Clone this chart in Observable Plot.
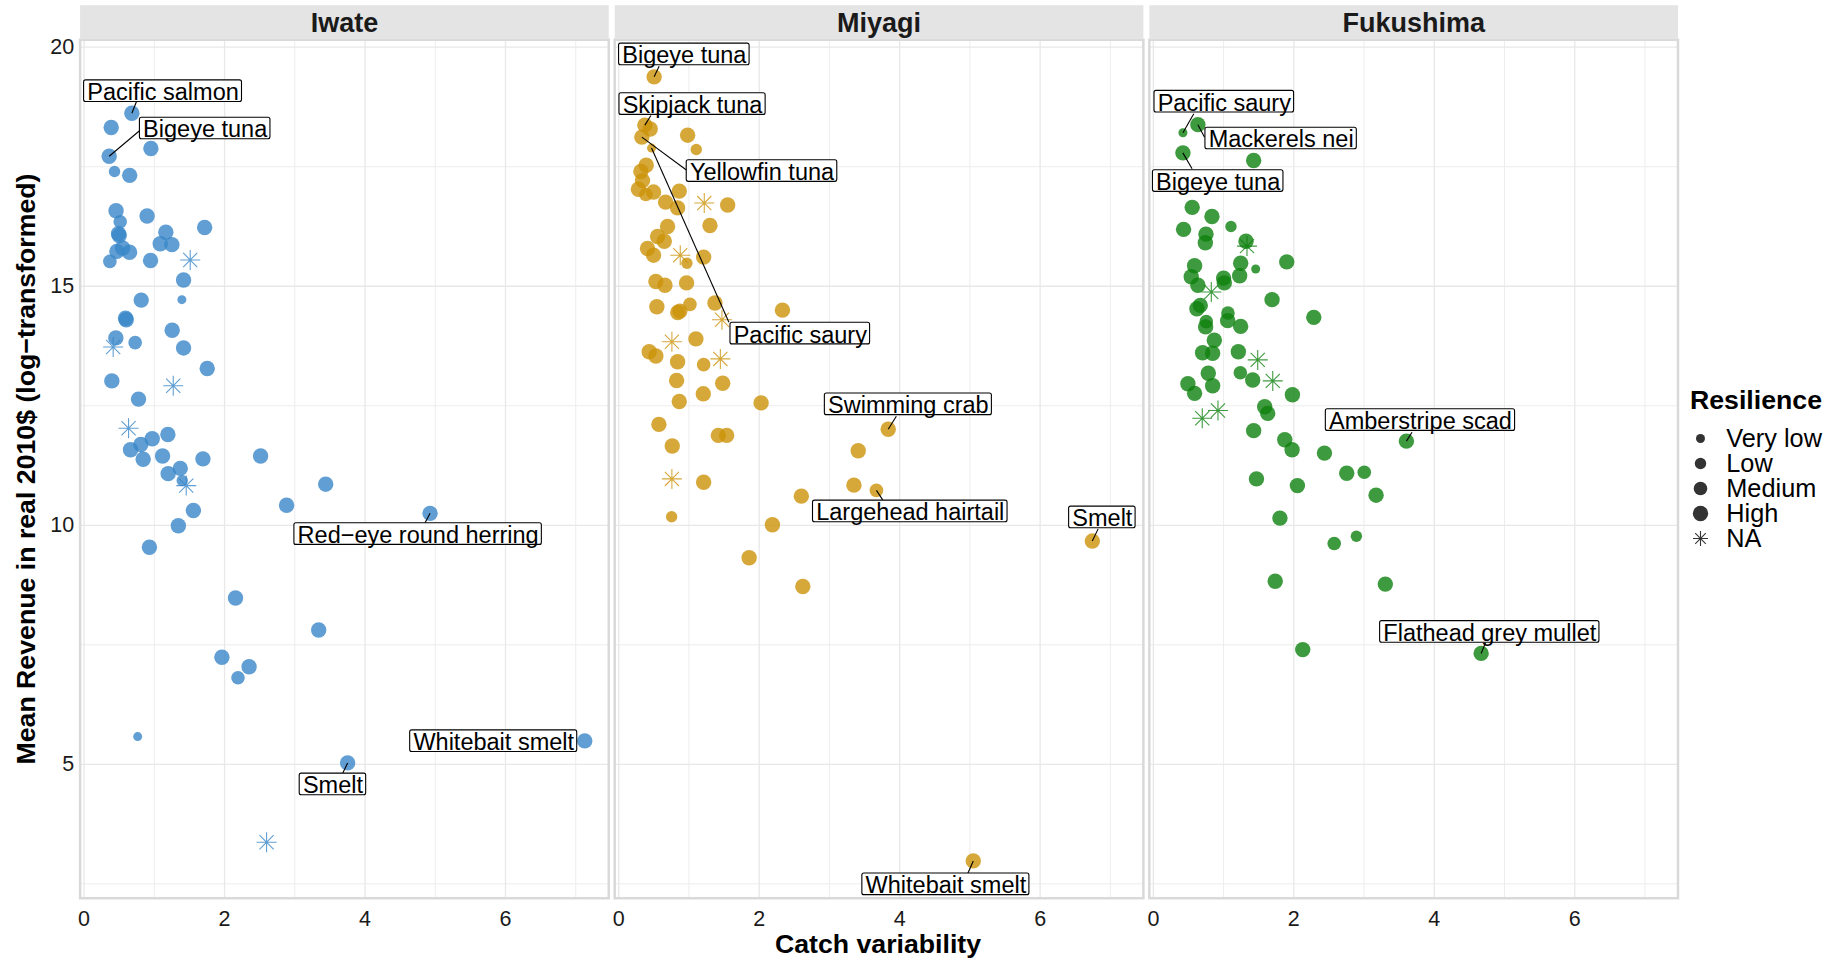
<!DOCTYPE html>
<html>
<head>
<meta charset="utf-8">
<script src="https://cdn.jsdelivr.net/npm/d3@7"></script>
<script src="https://cdn.jsdelivr.net/npm/@observablehq/plot@0.6"></script>
<style>
  body { margin: 0; background: #fff; }
  #chart { position: relative; width: 1837px; height: 960px; overflow: hidden; font-family: "Liberation Sans", Arial, sans-serif; color: #000; }
  #chart svg { position: absolute; }
  .axis-title { position: absolute; font-weight: bold; font-size: 26.7px; line-height: 30px; text-align: center; white-space: nowrap; color: #000; }
  .legend-title { position: absolute; font-weight: bold; font-size: 26.7px; line-height: 30px; white-space: nowrap; color: #000; }
</style>
</head>
<body>
<div id="chart"></div>
<script>
// Prefectures (facets) and their point colours
const regions = ["Iwate", "Miyagi", "Fukushima"];
const regionColors = ["#3886C8", "#CC9209", "#0E810E"];

// Resilience classes: code used in the series, legend text, dot radius
const resilienceCodes = ["V", "L", "M", "H", "NA"];
const resilienceLevels = ["Very low", "Low", "Medium", "High", "NA"];
const resilienceRadius = [4.5, 5.7, 6.8, 7.7, 10];

// Species per prefecture: [catch variability, mean revenue (log), resilience]
const iwate = [
  [0.68,18.62,"H"],[0.386,18.32,"H"],[0.951,17.88,"H"],[0.357,17.72,"H"],[0.433,17.40,"L"],
  [0.649,17.32,"H"],[0.455,16.58,"H"],[0.897,16.47,"H"],[0.514,16.35,"M"],[0.49,16.10,"H"],
  [0.50,16.06,"H"],[1.716,16.23,"H"],[1.164,16.13,"H"],[1.084,15.89,"H"],[1.250,15.87,"H"],
  [0.467,15.73,"H"],[0.548,15.80,"H"],[0.647,15.71,"H"],[0.367,15.52,"M"],[0.946,15.54,"H"],
  [1.511,15.55,"NA"],[1.416,15.13,"H"],[1.392,14.72,"V"],[0.813,14.71,"H"],[0.59,14.33,"H"],
  [0.60,14.30,"H"],[1.254,14.08,"H"],[0.452,13.92,"H"],[0.727,13.82,"M"],[0.414,13.73,"NA"],
  [1.416,13.71,"H"],[1.753,13.28,"H"],[0.395,13.02,"H"],[1.269,12.92,"NA"],[0.775,12.64,"H"],
  [0.633,12.03,"NA"],[1.193,11.90,"H"],[0.970,11.81,"H"],[0.808,11.69,"H"],[0.661,11.58,"H"],
  [2.513,11.45,"H"],[1.117,11.45,"H"],[1.692,11.39,"H"],[0.841,11.38,"H"],[1.369,11.19,"H"],
  [1.197,11.08,"H"],[1.397,10.935,"L"],[1.454,10.83,"NA"],[3.44,10.86,"H"],[2.883,10.42,"H"],
  [1.556,10.31,"H"],[4.926,10.25,"H"],[1.342,9.99,"H"],[0.930,9.54,"H"],[2.156,8.48,"H"],
  [3.34,7.81,"H"],[1.962,7.24,"H"],[2.349,7.04,"H"],[2.191,6.81,"M"],[0.763,5.58,"V"],
  [7.128,5.49,"H"],[3.752,5.03,"H"],[2.598,3.37,"NA"]
];
const miyagi = [
  [0.504,19.38,"H"],[0.372,18.37,"H"],[0.448,18.29,"H"],[0.981,18.16,"H"],[0.329,18.12,"H"],
  [1.104,17.86,"L"],[0.467,17.89,"V"],[0.391,17.53,"H"],[0.315,17.40,"H"],[0.339,17.21,"H"],
  [0.28,17.03,"H"],[0.386,16.92,"M"],[0.496,16.97,"H"],[0.862,16.99,"H"],[1.218,16.74,"NA"],
  [1.551,16.70,"H"],[0.667,16.76,"H"],[0.838,16.64,"H"],[1.299,16.27,"H"],[0.695,16.25,"H"],
  [0.553,16.04,"H"],[0.648,15.94,"H"],[0.410,15.79,"H"],[0.496,15.65,"H"],[0.876,15.65,"NA"],
  [0.971,15.48,"L"],[1.209,15.61,"H"],[0.529,15.10,"H"],[0.658,15.02,"H"],[0.966,15.07,"H"],
  [0.543,14.57,"H"],[0.871,14.48,"H"],[0.84,14.45,"H"],[1.014,14.62,"M"],[1.37,14.65,"H"],
  [2.331,14.50,"H"],[1.470,14.30,"NA"],[0.757,13.84,"NA"],[1.099,13.90,"H"],[0.434,13.63,"H"],
  [0.529,13.54,"H"],[0.838,13.42,"H"],[1.209,13.36,"M"],[1.447,13.48,"NA"],[0.824,13.03,"H"],
  [1.480,12.97,"H"],[1.204,12.75,"H"],[0.862,12.59,"H"],[2.027,12.56,"H"],[0.572,12.11,"H"],
  [1.418,11.88,"H"],[1.537,11.88,"H"],[3.837,12.01,"H"],[0.762,11.66,"H"],[3.41,11.56,"H"],
  [0.757,10.97,"NA"],[1.209,10.90,"H"],[3.349,10.84,"H"],[3.669,10.73,"M"],[2.60,10.61,"H"],
  [0.753,10.18,"L"],[2.188,10.01,"H"],[6.743,9.67,"H"],[1.857,9.32,"H"],[2.621,8.72,"H"],
  [5.048,2.98,"H"]
];
const fukushima = [
  [0.421,18.21,"V"],[0.634,18.38,"H"],[0.421,17.79,"H"],[1.428,17.63,"H"],[0.553,16.65,"H"],
  [0.834,16.46,"H"],[1.105,16.25,"L"],[0.430,16.19,"H"],[0.749,16.09,"H"],[0.740,15.91,"H"],
  [1.319,15.94,"H"],[1.333,15.84,"NA"],[1.899,15.51,"H"],[0.587,15.43,"H"],[1.243,15.48,"H"],
  [1.457,15.36,"V"],[0.539,15.20,"H"],[1.0,15.17,"H"],[1.229,15.22,"H"],[1.01,15.07,"H"],
  [0.634,15.02,"H"],[0.825,14.88,"NA"],[1.690,14.72,"H"],[0.668,14.60,"H"],[0.62,14.53,"H"],
  [2.284,14.35,"H"],[1.062,14.44,"M"],[0.753,14.26,"M"],[1.058,14.28,"H"],[1.243,14.16,"H"],
  [0.744,14.15,"H"],[0.868,13.87,"H"],[0.701,13.61,"H"],[0.844,13.60,"H"],[1.210,13.63,"H"],
  [1.486,13.46,"NA"],[0.782,13.18,"H"],[1.238,13.19,"M"],[1.414,13.04,"H"],[1.700,13.02,"NA"],
  [0.492,12.96,"H"],[0.844,12.92,"H"],[0.587,12.76,"H"],[1.980,12.73,"H"],[0.920,12.40,"NA"],
  [0.696,12.24,"NA"],[1.585,12.48,"H"],[1.628,12.34,"H"],[1.428,11.98,"H"],[3.603,11.76,"H"],
  [1.871,11.79,"H"],[1.975,11.58,"H"],[2.436,11.51,"H"],[2.753,11.09,"H"],[3.003,11.11,"M"],
  [1.468,10.97,"H"],[2.051,10.83,"H"],[3.171,10.63,"H"],[1.802,10.15,"H"],[2.891,9.77,"L"],
  [2.575,9.62,"M"],[1.735,8.83,"H"],[3.303,8.77,"H"],[2.127,7.40,"H"],[4.667,7.32,"H"]
];

// Labelled species: [prefecture, name, row in series, label centre x, y, leader start x, y]
const speciesLabels = [
  ["Iwate", "Pacific salmon", 0, 1.124, 19.08, 0.746, 18.864],
  ["Iwate", "Bigeye tuna", 3, 1.724, 18.30, 0.793, 18.257],
  ["Iwate", "Red\u2212eye round herring", 51, 4.756, 9.816, 4.853, 10.05],
  ["Iwate", "Whitebait smelt", 60, 5.832, 5.485, null, null],
  ["Iwate", "Smelt", 61, 3.543, 4.58, 3.682, 4.812],
  ["Miyagi", "Bigeye tuna", 0, 0.934, 19.85, 0.575, 19.60],
  ["Miyagi", "Skipjack tuna", 1, 1.051, 18.81, 0.458, 18.571],
  ["Miyagi", "Yellowfin tuna", 4, 2.04, 17.41, 0.973, 17.42],
  ["Miyagi", "Pacific saury", 6, 2.585, 14.01, 1.569, 14.247],
  ["Miyagi", "Swimming crab", 52, 4.124, 12.53, 3.953, 12.28],
  ["Miyagi", "Largehead hairtail", 58, 4.151, 10.29, 3.759, 10.531],
  ["Miyagi", "Smelt", 62, 6.886, 10.165, 6.826, 9.925],
  ["Miyagi", "Whitebait smelt", 65, 4.658, 2.49, 4.971, 2.72],
  ["Fukushima", "Pacific saury", 0, 1.01, 18.86, 0.576, 18.607],
  ["Fukushima", "Mackerels nei", 1, 1.819, 18.09, 0.729, 18.117],
  ["Fukushima", "Bigeye tuna", 2, 0.923, 17.20, 0.551, 17.456],
  ["Fukushima", "Amberstripe scad", 49, 3.803, 12.20, 3.683, 11.946],
  ["Fukushima", "Flathead grey mullet", 64, 4.79, 7.77, 4.728, 7.54]
];

// Axis ticks and grid positions
const xTicks = [0, 2, 4, 6];
const xMinor = [1, 3, 5, 7];
const yTicks = [5, 10, 15, 20];
const yMinor = [2.5, 7.5, 12.5, 17.5];

const FONT = '"Liberation Sans", Arial, Helvetica, sans-serif';
const LABEL_SIZE = 23.5;

// ggplot-style asterisk (shape 8): a plus overlaid with a cross
const asterisk = {
  draw(context, size) {
    const r = Math.sqrt(size / Math.PI);
    const d = r * Math.SQRT1_2;
    context.moveTo(-r, 0); context.lineTo(r, 0);
    context.moveTo(0, -r); context.lineTo(0, r);
    context.moveTo(-d, -d); context.lineTo(d, d);
    context.moveTo(-d, d); context.lineTo(d, -d);
  }
};

const series = {Iwate: iwate, Miyagi: miyagi, Fukushima: fukushima};
const points = regions.flatMap(region =>
  series[region].map(([x, y, code]) => ({region, x, y, code}))
);

const layout = {
  width: 1837,
  height: 960,
  marginLeft: 79.6,
  marginRight: 159.5,
  marginTop: 39.3,
  marginBottom: 62.3,
  x: {domain: [-0.057, 7.47], nice: false},
  y: {domain: [2.2, 20.155], nice: false},
  fx: {domain: regions, paddingInner: 0.0112, paddingOuter: 0, round: false, axis: null, label: null},
  color: {domain: regions, range: regionColors},
  style: {fontFamily: FONT, background: "transparent", overflow: "visible"}
};

// First pass: read the pixel size of one data unit inside a panel
const probe = Plot.plot({...layout, marks: [Plot.dot(points, {fx: "region", x: "x", y: "y"})]});
const sx = probe.scale("x"), sy = probe.scale("y");
const kx = Math.abs(sx.range[1] - sx.range[0]) / (sx.domain[1] - sx.domain[0]);
const ky = Math.abs(sy.range[0] - sy.range[1]) / (sy.domain[1] - sy.domain[0]);
const panelHeight = Math.abs(sy.range[0] - sy.range[1]);

// Label boxes sized from the rendered text width
const measure = document.createElement("canvas").getContext("2d");
measure.font = `${LABEL_SIZE}px ${FONT}`;
const labelRows = speciesLabels.map(([region, name, row, lx, ly, lsx, lsy]) => {
  const [px, py] = series[region][row];
  const half = (measure.measureText(name).width / 2 + 3.2) / kx;
  const halfH = 10.8 / ky;
  return {region, name, px, py, lx, ly, sx: lsx, sy: lsy,
    x1: lx - half, x2: lx + half, y1: ly - halfH, y2: ly + halfH};
});
const leaders = labelRows.filter(d => d.sx != null);

const dotMarks = resilienceCodes.slice(0, 4).map((code, i) =>
  Plot.dot(points.filter(d => d.code === code), {
    fx: "region", x: "x", y: "y", r: resilienceRadius[i],
    fill: "region", fillOpacity: 0.8, stroke: "none"
  })
);

const svg = Plot.plot({
  ...layout,
  marks: [
    Plot.frame({fill: "white"}),
    Plot.ruleX(xMinor, {stroke: "#EDEDED", strokeWidth: 1}),
    Plot.ruleY(yMinor, {stroke: "#EDEDED", strokeWidth: 1}),
    Plot.ruleX(xTicks, {stroke: "#E8E8E8", strokeWidth: 1.3}),
    Plot.ruleY(yTicks, {stroke: "#E8E8E8", strokeWidth: 1.3}),
    Plot.frame({stroke: "#D9D9D9", strokeWidth: 2.5}),
    // facet strips
    Plot.frame({fill: "#E4E4E4", insetTop: -34.6, insetBottom: panelHeight + 0.6}),
    Plot.text(regions, {fx: d => d, text: d => d, frameAnchor: "top", lineAnchor: "middle", dy: -16.6,
      fontSize: 27, fontWeight: "bold", fill: "#1A1A1A"}),
    Plot.axisX({ticks: xTicks, tickSize: 0, tickPadding: 13, fontSize: 21.5, label: null, color: "#1A1A1A"}),
    Plot.axisY({ticks: yTicks, tickSize: 0, tickPadding: 6, fontSize: 21.5, label: null, color: "#1A1A1A"}),
    ...dotMarks,
    Plot.dot(points.filter(d => d.code === "NA"), {
      fx: "region", x: "x", y: "y", r: resilienceRadius[4], symbol: asterisk,
      fill: "none", stroke: "region", strokeOpacity: 0.8, strokeWidth: 1.1
    }),
    Plot.link(leaders, {fx: "region", x1: "sx", y1: "sy", x2: "px", y2: "py", stroke: "black", strokeWidth: 1.1}),
    Plot.rect(labelRows, {fx: "region", x1: "x1", x2: "x2", y1: "y1", y2: "y2",
      fill: "white", stroke: "black", strokeWidth: 1.1, rx: 2}),
    Plot.text(labelRows, {fx: "region", x: "lx", y: "ly", text: "name", fontSize: LABEL_SIZE, dy: 1.4, fill: "black"})
  ]
});
svg.style.left = "0px";
svg.style.top = "0px";

const chart = document.getElementById("chart");
chart.appendChild(svg);

// Axis titles
const xTitle = document.createElement("div");
xTitle.className = "axis-title";
xTitle.textContent = "Catch variability";
Object.assign(xTitle.style, {left: (878 - 300) + "px", top: (944 - 15) + "px", width: "600px"});
chart.appendChild(xTitle);

const yTitle = document.createElement("div");
yTitle.className = "axis-title";
yTitle.textContent = "Mean Revenue in real 2010$ (log\u2212transformed)";
Object.assign(yTitle.style, {left: (25.8 - 350) + "px", top: (468.5 - 15) + "px", width: "700px", transform: "rotate(-90deg)"});
chart.appendChild(yTitle);

// Legend
const legendTitle = document.createElement("div");
legendTitle.className = "legend-title";
legendTitle.textContent = "Resilience";
Object.assign(legendTitle.style, {left: "1690px", top: (399.5 - 15) + "px"});
chart.appendChild(legendTitle);

const legendItems = resilienceLevels.map((label, i) => ({label, code: resilienceCodes[i], r: resilienceRadius[i]}));
const legend = Plot.plot({
  width: 147,
  height: 140,
  margin: 0,
  y: {type: "point", domain: resilienceLevels, range: [18, 118], padding: 0, axis: null},
  style: {fontFamily: FONT, background: "transparent", overflow: "visible"},
  marks: [
    ...legendItems.filter(d => d.code !== "NA").map(d =>
      Plot.dot([d], {y: "label", frameAnchor: "left", dx: 10, r: d.r, fill: "#333333", stroke: "none"})
    ),
    Plot.dot(legendItems.filter(d => d.code === "NA"), {y: "label", frameAnchor: "left", dx: 10, r: 7.5,
      symbol: asterisk, fill: "none", stroke: "#333333", strokeWidth: 1.1}),
    Plot.text(legendItems, {y: "label", frameAnchor: "left", dx: 35.8, text: "label",
      textAnchor: "start", fontSize: 25.3, fill: "#000"})
  ]
});
legend.style.left = "1690px";
legend.style.top = "420px";
chart.appendChild(legend);
</script>
</body>
</html>
